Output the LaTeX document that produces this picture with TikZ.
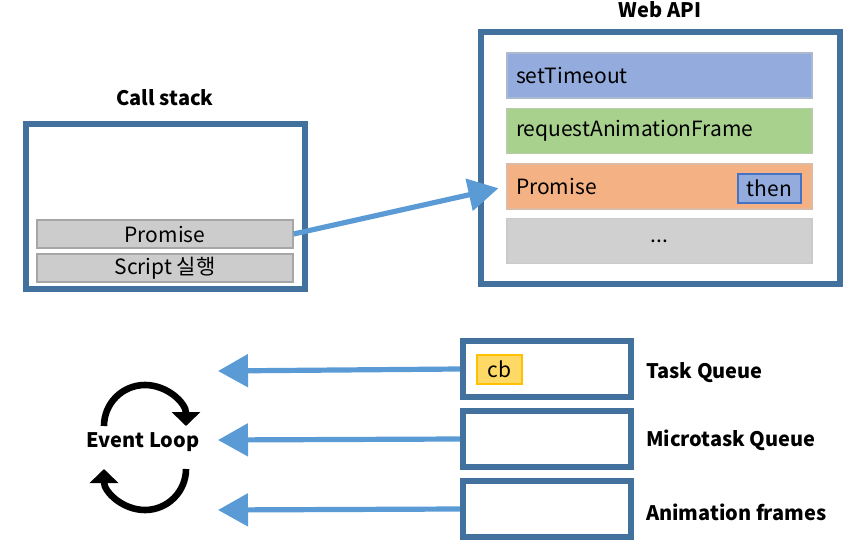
\documentclass[tikz,border=0pt]{standalone}
\usepackage{fontspec}
\setmainfont{Noto Sans CJK KR}
\usetikzlibrary{arrows.meta,positioning}
\definecolor{frameblue}{HTML}{41719C}
\definecolor{arrowblue}{HTML}{5B9BD5}
\tikzset{frame/.style={draw=frameblue, line width=3pt, minimum width=#1}}
\tikzset{bar/.style={draw=black!35, fill=black!20, line width=0.6pt, minimum height=14pt, minimum width=128pt, inner sep=0pt, font=\fontsize{10.5}{12}\selectfont}}
\tikzset{api/.style={draw=#1!80!black!60, fill=#1, line width=0.8pt, minimum height=22.5pt, text width=143.5pt, inner sep=4.5pt, align=left, font=\fontsize{10.5}{12}\selectfont}}
\tikzset{title/.style={font=\bfseries\fontsize{10}{12}\selectfont}}
\tikzset{arr/.style={draw=arrowblue, line width=2.6pt, -{Triangle[length=15pt, width=16pt]}}}
\tikzset{loop/.style={draw, line width=3.3pt, -{Triangle[length=7pt, width=14pt]}}}
\definecolor{apiblue}{HTML}{94ABDE}
\definecolor{apigreen}{HTML}{A9D18E}
\definecolor{apiorange}{HTML}{F4B183}
\definecolor{apigray}{HTML}{D0D0D0}
\definecolor{thenblue}{HTML}{4472C4}
\definecolor{cbfill}{HTML}{FFD966}
\definecolor{cbdraw}{HTML}{FFC000}

\begin{document}
\begin{tikzpicture}[x=0.5pt, y=-0.5pt]
	\useasboundingbox (0,0) rectangle (857,540);
	
	% call stack
	\node[frame=139.5pt, minimum height=82.5pt] (CS) at (165.5,206.5){};
	\node[title] (CSt) at (165,98){Call stack};
	\node[bar] (CSp) at (165,234){Promise};
	\node[bar] (CSs) at (165,268){Script 실행};
	
	% web api
	\node[frame=179.5pt, minimum height=126pt] (WA) at (660.5,158){};
	\node[title] (WAt) at (660,10){Web API};
	\node[api=apiblue] (WAs) at (659.5,75.5){setTimeout};
	\node[api=apigreen] (WAr) at (659.5,131){requestAnimationFrame};
	\node[api=apiorange] (WAp) at (659.5,186.5){Promise};
	\node[api=apigray, align=center] (WAd) at (659.5,241){...};
	\node[draw=thenblue, fill=apiblue, line width=0.8pt, minimum width=31.5pt, minimum height=14.5pt, inner sep=0pt, font=\fontsize{10.5}{12}\selectfont] (then) at (769.5,188.5){then};
	
	\draw[arr, shorten >=4pt] (CSp.east) -- (WAp.west);
	
	% queues
	\node[frame=84pt, minimum height=28pt] (TQ) at (547,369){};
	\node[frame=84pt, minimum height=28pt] (MQ) at (547,439){};
	\node[frame=84pt, minimum height=28pt] (AF) at (547,509){};
	\node[draw=cbdraw, fill=cbfill, line width=0.8pt, minimum width=22.5pt, minimum height=14.5pt, inner sep=0pt, font=\fontsize{10.5}{12}\selectfont] (cb) at (499.5,369.5){cb};
	\node[title, anchor=west] (TQt) at (639,373){Task Queue};
	\node[title, anchor=west] (MQt) at (639,440){Microtask Queue};
	\node[title, anchor=west] (AFt) at (639,512){Animation frames};
	
	\coordinate (T1) at (218,371);
	\coordinate (T2) at (218,440);
	\coordinate (T3) at (218,510);
	\draw[arr] (TQ.west) -- (T1);
	\draw[arr] (MQ.west) -- (T2);
	\draw[arr] (AF.west) -- (T3);
	
	% event loop
	\node[title] (EL) at (143,442){Event Loop};
	\draw[loop] (104,426) arc[start angle=180, end angle=360, radius=41];
	\draw[loop] (186,469) arc[start angle=0, end angle=180, radius=41];
\end{tikzpicture}
\end{document}
